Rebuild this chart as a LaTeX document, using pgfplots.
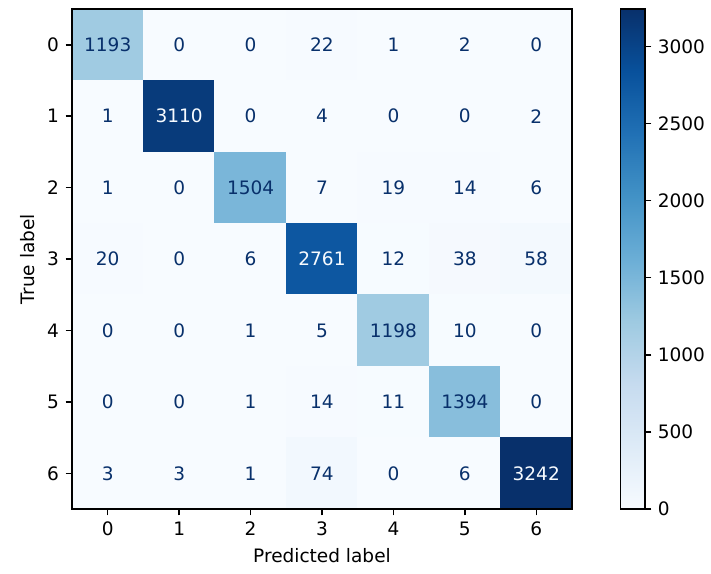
\documentclass[border=0pt]{standalone}
\usepackage{fontspec}
\setmainfont{DejaVu Sans}
\usepackage{pgfplots}
\usepackage{pgfplotstable}
\pgfplotsset{compat=1.18}

\definecolor{cbdark}{RGB}{8,48,107}
\definecolor{cblight}{RGB}{247,251,255}
\pgfplotsset{colormap={blues}{rgb255=(247,251,255) rgb255=(222,235,247)
  rgb255=(198,219,239) rgb255=(158,202,225) rgb255=(107,174,214)
  rgb255=(66,146,198) rgb255=(33,113,181) rgb255=(8,81,156) rgb255=(8,48,107)}}

% confusion matrix: x = predicted, y = true, c = count
\pgfplotstableread{
x y c
0 0 1193
1 0 0
2 0 0
3 0 22
4 0 1
5 0 2
6 0 0
0 1 1
1 1 3110
2 1 0
3 1 4
4 1 0
5 1 0
6 1 2
0 2 1
1 2 0
2 2 1504
3 2 7
4 2 19
5 2 14
6 2 6
0 3 20
1 3 0
2 3 6
3 3 2761
4 3 12
5 3 38
6 3 58
0 4 0
1 4 0
2 4 1
3 4 5
4 4 1198
5 4 10
6 4 0
0 5 0
1 5 0
2 5 1
3 5 14
4 5 11
5 5 1394
6 5 0
0 6 3
1 6 3
2 6 1
3 6 74
4 6 0
5 6 6
6 6 3242
}\cmtable

\begin{document}
\begin{tikzpicture}
\begin{axis}[
    name=main,
    scale only axis,
    width=270pt, height=270pt,
    xmin=-0.5, xmax=6.5, ymin=-0.5, ymax=6.5,
    y dir=reverse,
    enlargelimits=false,
    axis on top,
    colormap name=blues,
    point meta min=0, point meta max=3242,
    xtick={0,...,6}, ytick={0,...,6},
    xtick pos=bottom, ytick pos=left,
    tick align=outside,
    major tick length=3.5pt,
    every tick/.style={black, line width=0.8pt},
    axis line style={black, line width=0.8pt},
    ticklabel style={font=\fontsize{10}{12}\selectfont},
    label style={font=\fontsize{10}{12}\selectfont},
    xlabel={Predicted label},
    ylabel={True label},
    /pgf/number format/assume math mode=true,
    /pgf/number format/1000 sep={},
    colorbar,
    colorbar style={
        at={(parent axis.north east)}, anchor=north west, xshift=17.8pt,
        width=13pt,
        ytick={0,500,...,3000},
        ytick pos=right,
        tick align=outside,
        major tick length=3.5pt,
        every tick/.style={black, line width=0.8pt},
        axis line style={black, line width=0.8pt},
        yticklabel style={font=\fontsize{10}{12}\selectfont},
        /pgf/number format/assume math mode=true,
        /pgf/number format/1000 sep={},
    },
]
\addplot[matrix plot*, mesh/cols=7, point meta=explicit] table[meta=c] {\cmtable};
\addplot[draw=none, forget plot, point meta=explicit,
    nodes near coords={\pgfmathfloattofixed{\pgfplotspointmeta}%
      \ifdim\pgfmathresult pt>1621pt\color{cblight}\else\color{cbdark}\fi
      \pgfmathprintnumber{\pgfplotspointmeta}},
    nodes near coords align=center,
    every node near coord/.append style={font=\fontsize{10}{12}\selectfont, anchor=center},
    ] table[meta=c] {\cmtable};
\end{axis}
\pgfresetboundingbox
\path ([xshift=-38.9pt,yshift=-35.1pt]main.south west) rectangle ([xshift=75.1pt,yshift=4.9pt]main.north east);
\end{tikzpicture}
\end{document}
